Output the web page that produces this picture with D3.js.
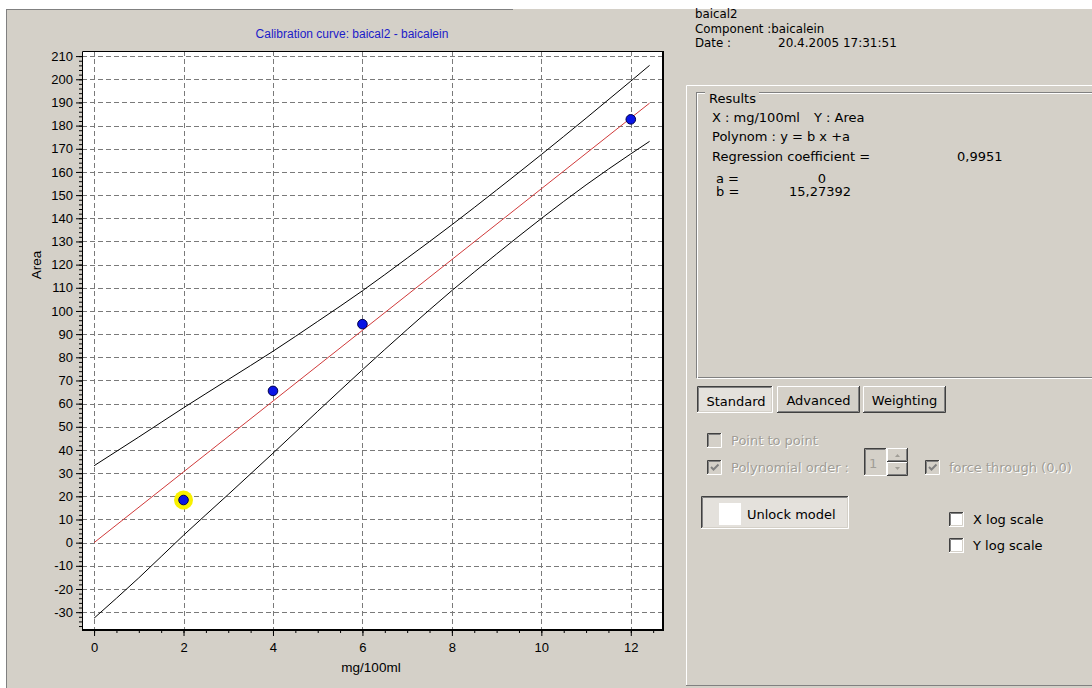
<!DOCTYPE html>
<html>
<head>
<meta charset="utf-8">
<script src="https://cdn.jsdelivr.net/npm/d3@7"></script>
<style>
body { margin: 0; background: #fff; }
text { font-family: "Liberation Sans", Arial, sans-serif; }
.side text { font-family: "DejaVu Sans", sans-serif; }
</style>
</head>
<body>
<script>
// calibration standards (mg/100ml -> Area)
const conc = [2, 4, 6, 12];
const area = [18.4, 65.5, 94.3, 182.7];
const selectedConc = 2;

// fitted line y = b x + a (end points)
const fitX = [0, 12.42];
const fitY = [0, 189.7];

// confidence band
const bandX     = [0, 1, 2, 3, 4, 5, 6, 7, 8, 9, 10, 11, 12, 12.42];
const bandUpper = [33.2, 45.6, 58.2, 70.4, 82.6, 95.5, 108.7, 122.8, 137.2, 152.2, 167.5, 183.2, 199.2, 206.0];
const bandLower = [-32.6, -15.2, 3.2, 20.8, 38.6, 56.7, 74.6, 92.0, 108.8, 124.6, 139.9, 154.4, 167.8, 173.2];

// axis ticks
const xTicks = [0, 2, 4, 6, 8, 10, 12];
const yTicks = [-30, -20, -10, 0, 10, 20, 30, 40, 50, 60, 70, 80, 90, 100, 110, 120, 130, 140, 150, 160, 170, 180, 190, 200, 210];

// texts
const chartTitle = "Calibration curve: baical2 - baicalein";
const xTitle = "mg/100ml";
const yTitle = "Area";
const headerLines = ["baical2", "Component :baicalein", "Date :"];
const dateText = "20.4.2005 17:31:51";
const resultLines = ["Polynom : y = b x +a", "Regression coefficient ="];
const regCoef = "0,9951";
const coefNames = ["a =", "b ="];
const coefValues = ["0", "15,27392"];
const tabs = ["Standard", "Advanced", "Weighting"];

const W = 1092, H = 688;
const face = "#d4d0c8";

let svg = d3.select("body").append("svg")
    .attr("width", W)
    .attr("height", H);

// window background
svg.append("rect").attr("width", W).attr("height", H).attr("fill", "#fff");
svg.append("rect").attr("x", 6).attr("y", 9).attr("width", W - 6).attr("height", H - 9).attr("fill", face);
svg.append("line").attr("x1", 6.5).attr("x2", 6.5).attr("y1", 9).attr("y2", H).attr("stroke", "#808080");
svg.append("line").attr("x1", 6).attr("x2", 513).attr("y1", 9.5).attr("y2", 9.5).attr("stroke", "#808080");

// ---------- chart ----------
const plot = {left: 82, right: 663, top: 51, bottom: 630};

let x = d3.scaleLinear().domain([-0.27, 12.72]).range([plot.left, plot.right]);
let y = d3.scaleLinear().domain([-37.7, 212.2]).range([plot.bottom, plot.top]);

svg.append("rect")
    .attr("x", plot.left).attr("y", plot.top)
    .attr("width", plot.right - plot.left).attr("height", plot.bottom - plot.top)
    .attr("fill", "#fff");

// grid
let grid = svg.append("g").attr("stroke", "#7a7a7a").attr("stroke-dasharray", "5,3");
grid.selectAll(".gx").data(xTicks).enter().append("line")
    .attr("x1", d => Math.round(x(d)) + 0.5).attr("x2", d => Math.round(x(d)) + 0.5)
    .attr("y1", plot.top).attr("y2", plot.bottom);
grid.selectAll(".gy").data(yTicks).enter().append("line")
    .attr("y1", d => Math.round(y(d)) + 0.5).attr("y2", d => Math.round(y(d)) + 0.5)
    .attr("x1", plot.left).attr("x2", plot.right);

// band + fit lines
let line = d3.line().curve(d3.curveMonotoneX).x(d => x(d[0])).y(d => y(d[1]));
svg.append("path")
    .attr("d", line(d3.zip(bandX, bandUpper)))
    .attr("fill", "none").attr("stroke", "#000").attr("stroke-width", 1);
svg.append("path")
    .attr("d", line(d3.zip(bandX, bandLower)))
    .attr("fill", "none").attr("stroke", "#000").attr("stroke-width", 1);
svg.append("path")
    .attr("d", line(d3.zip(fitX, fitY)))
    .attr("fill", "none").attr("stroke", "#d03a3a").attr("stroke-width", 1);

// points
let pts = d3.zip(conc, area);
svg.selectAll(".halo").data(pts.filter(d => d[0] === selectedConc)).enter().append("circle")
    .attr("cx", d => x(d[0])).attr("cy", d => y(d[1]))
    .attr("r", 9.5).attr("fill", "#f8f000");
svg.selectAll(".pt").data(pts).enter().append("circle")
    .attr("cx", d => x(d[0])).attr("cy", d => y(d[1]))
    .attr("r", 4.8).attr("fill", "#0a14e6").attr("stroke", "#00004a").attr("stroke-width", 1);

// frame
svg.append("path")
    .attr("d", `M${plot.left + 0.5},${plot.bottom}V${plot.top + 0.5}H${plot.right}`)
    .attr("fill", "none").attr("stroke", "#000");
svg.append("path")
    .attr("d", `M${plot.left},${plot.bottom}H${plot.right}V${plot.top}`)
    .attr("fill", "none").attr("stroke", "#000").attr("stroke-width", 2);

// axes
svg.append("g")
    .attr("transform", `translate(${plot.left},0)`)
    .call(d3.axisLeft(y).tickValues(yTicks).tickSize(6).tickPadding(3).tickFormat(d => String(d)));
svg.append("g")
    .attr("transform", `translate(${plot.left},0)`)
    .call(d3.axisLeft(y).tickValues(d3.range(-36, 212, 2)).tickSize(3).tickFormat(""));
svg.append("g")
    .attr("transform", `translate(0,${plot.bottom})`)
    .call(d3.axisBottom(x).tickValues(xTicks).tickSize(6).tickPadding(7).tickFormat(d => String(d)));
svg.append("g")
    .attr("transform", `translate(0,${plot.bottom})`)
    .call(d3.axisBottom(x).tickValues(d3.range(0, 12.7, 0.5)).tickSize(3).tickFormat(""));
svg.selectAll(".domain").remove();
svg.selectAll(".tick text").attr("font-size", 13).attr("fill", "#000")
    .style("font-family", '"Liberation Sans", Arial, sans-serif');

// titles
svg.append("text").attr("x", 352).attr("y", 38).attr("text-anchor", "middle")
    .attr("font-size", 12).attr("fill", "#1c1cc8").text(chartTitle);
svg.append("text").attr("x", 371).attr("y", 672).attr("text-anchor", "middle")
    .attr("font-size", 13.5).text(xTitle);
svg.append("text").attr("transform", "translate(41,265) rotate(-90)").attr("text-anchor", "middle")
    .attr("font-size", 13.5).text(yTitle);

// ---------- right side panel ----------
let side = svg.append("g").attr("class", "side").attr("font-size", 13);

side.selectAll(".hdr").data(headerLines).enter().append("text")
    .attr("x", 695).attr("y", (d, i) => 18 + i * 14.5).attr("font-size", 11.8).text(d => d);
side.append("text").attr("x", 778).attr("y", 47).attr("font-size", 12).text(dateText);

// raised panel
side.append("path").attr("d", "M686.5,685V85.5H1092").attr("fill", "none").attr("stroke", "#fff");
side.append("path").attr("d", "M686,685.5H1092").attr("fill", "none").attr("stroke", "#808080");

// results group box (etched)
side.append("rect").attr("x", 696.5).attr("y", 92.5).attr("width", 420).attr("height", 285)
    .attr("fill", "none").attr("stroke", "#808080");
side.append("rect").attr("x", 697.5).attr("y", 93.5).attr("width", 420).attr("height", 285)
    .attr("fill", "none").attr("stroke", "#fff");
side.append("rect").attr("x", 705).attr("y", 88).attr("width", 54).attr("height", 12).attr("fill", face);
side.append("text").attr("x", 709).attr("y", 103).text("Results");

side.append("text").attr("x", 712).attr("y", 122).text("X : mg/100ml");
side.append("text").attr("x", 814).attr("y", 122).text("Y : Area");
side.selectAll(".res").data(resultLines).enter().append("text")
    .attr("x", 712).attr("y", (d, i) => 141 + i * 19.5).text(d => d);
side.append("text").attr("x", 957).attr("y", 161).text(regCoef);
side.selectAll(".cn").data(coefNames).enter().append("text")
    .attr("x", 716).attr("y", (d, i) => 183 + i * 13).text(d => d);
side.append("text").attr("x", 822).attr("y", 183).attr("text-anchor", "middle").text(coefValues[0]);
side.append("text").attr("x", 789).attr("y", 196).text(coefValues[1]);

// win classic widgets
function bevel(g, x0, y0, w, h, sunken) {
    let x1 = x0 + w, y1 = y0 + h;
    let lt = sunken ? "#404040" : "#fff", rb = sunken ? "#fff" : "#404040";
    let lt2 = sunken ? "#808080" : face, rb2 = sunken ? face : "#808080";
    g.append("path").attr("d", `M${x0 + 0.5},${y1}V${y0 + 0.5}H${x1}`).attr("fill", "none").attr("stroke", lt);
    g.append("path").attr("d", `M${x0},${y1 - 0.5}H${x1 - 0.5}V${y0}`).attr("fill", "none").attr("stroke", rb);
    g.append("path").attr("d", `M${x0 + 1.5},${y1 - 1}V${y0 + 1.5}H${x1 - 1}`).attr("fill", "none").attr("stroke", lt2);
    g.append("path").attr("d", `M${x0 + 1},${y1 - 1.5}H${x1 - 1.5}V${y0 + 1}`).attr("fill", "none").attr("stroke", rb2);
}

function button(x0, y0, w, h, label, pressed) {
    let g = side.append("g");
    g.append("rect").attr("x", x0).attr("y", y0).attr("width", w).attr("height", h)
        .attr("fill", pressed ? "#e4e1dc" : face);
    bevel(g, x0, y0, w, h, pressed);
    g.append("text").attr("x", x0 + w / 2 + (pressed ? 1 : 0)).attr("y", y0 + h / 2 + 5 + (pressed ? 1 : 0))
        .attr("text-anchor", "middle").text(label);
    return g;
}

function checkbox(x0, y0, label, checked, disabled) {
    let g = side.append("g");
    g.append("rect").attr("x", x0).attr("y", y0).attr("width", 15).attr("height", 15)
        .attr("fill", disabled ? face : "#fff");
    bevel(g, x0, y0, 15, 15, true);
    if (checked) {
        g.append("path").attr("d", `M${x0 + 4},${y0 + 7}l2.5,2.5l5,-5`)
            .attr("fill", "none").attr("stroke", disabled ? "#808080" : "#000").attr("stroke-width", 2);
    }
    if (label) {
        if (disabled) {
            g.append("text").attr("x", x0 + 25).attr("y", y0 + 13).attr("fill", "#fff").text(label);
        }
        g.append("text").attr("x", x0 + 24).attr("y", y0 + 12)
            .attr("fill", disabled ? "#a09d96" : "#000").text(label);
    }
}

let tabX = [697, 777, 863];
let tabW = [76, 83, 83];
tabs.forEach((t, i) => button(tabX[i], 386, tabW[i], 27, t, i === 0));

checkbox(707, 433, "Point to point", false, true);
checkbox(707, 460, "Polynomial order :", true, true);
checkbox(925, 460, "force through (0,0)", true, true);

// spin box
side.append("rect").attr("x", 864).attr("y", 448).attr("width", 23).attr("height", 28).attr("fill", face);
bevel(side, 864, 448, 23, 28, true);
side.append("text").attr("x", 869).attr("y", 468).attr("fill", "#a09d96").text("1");
[448, 462].forEach((yy, i) => {
    side.append("rect").attr("x", 887).attr("y", yy).attr("width", 21).attr("height", 14).attr("fill", face);
    bevel(side, 887, yy, 21, 14, false);
    side.append("path")
        .attr("d", i === 0 ? `M895,${yy + 9}h5l-2.5,-3z` : `M895,${yy + 5}h5l-2.5,3z`)
        .attr("fill", "#a09d96");
});

// unlock model
let unlock = button(701, 496, 148, 33, "", true);
unlock.append("rect").attr("x", 719).attr("y", 503).attr("width", 22).attr("height", 22).attr("fill", "#fff");
unlock.append("text").attr("x", 747).attr("y", 519).text("Unlock model");

checkbox(949, 512, "X log scale", false, false);
checkbox(949, 538, "Y log scale", false, false);
</script>
</body>
</html>
